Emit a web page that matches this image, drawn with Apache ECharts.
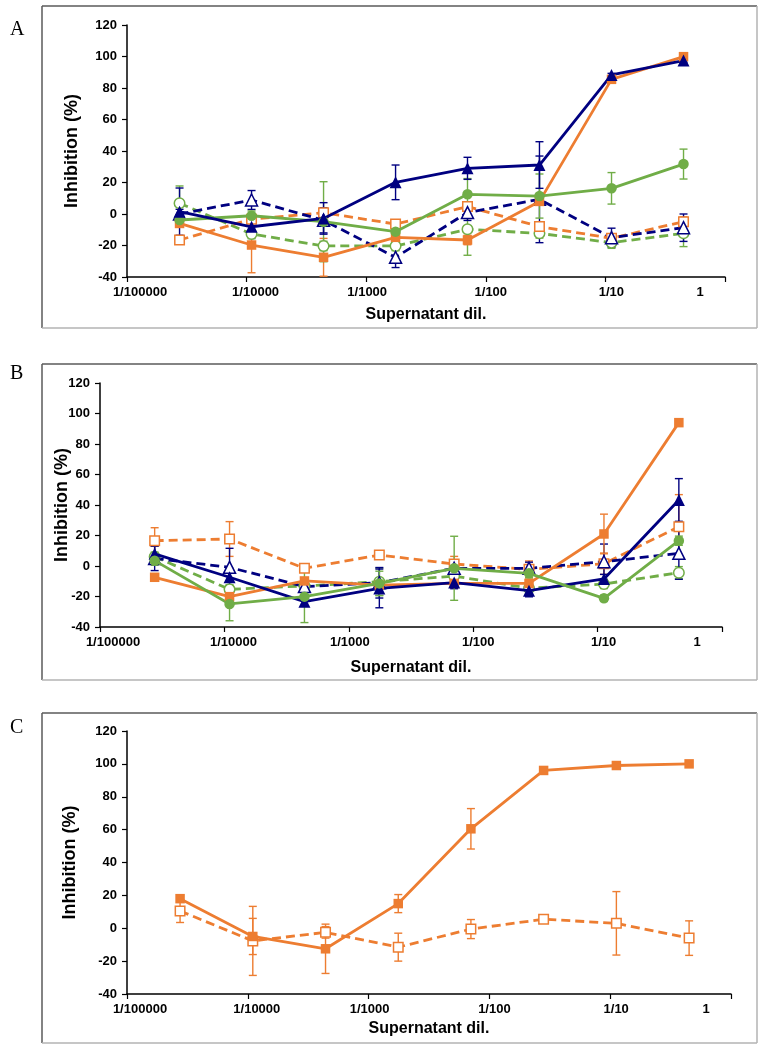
<!DOCTYPE html>
<html><head><meta charset="utf-8">
<script src="https://cdn.jsdelivr.net/npm/echarts@6/dist/echarts.min.js"></script>
<style>html,body{margin:0;padding:0;background:#fff}#c{width:765px;height:1050px}</style>
</head><body><div id="c"></div>
<script>
// Dilutions (x values) shared by all panels
const dilutions = [0.0000275, 0.00011, 0.00044, 0.00176, 0.00703, 0.0281, 0.1125, 0.45];
const xTickValues = [0.00001, 0.0001, 0.001, 0.01, 0.1, 1];
const xTickLabels = ['1/100000', '1/10000', '1/1000', '1/100', '1/10', '1'];

// Panel A
const A_orangeFilled    = [-6, -19.7, -27.5, -14.8, -16.5, 8, 85.5, 99.9];
const A_orangeFilledErr = [2, 17.6, 12, 3, 3, 2, 1, 1];
const A_orangeOpen      = [-16.5, -3.3, 0.8, -6.4, 4.7, -8, -15.4, -4.9];
const A_orangeOpenErr   = [2, 2, 2, 2, 3, 2, 2, 3];
const A_navyFilled      = [1.5, -8.1, -2.8, 20.1, 29, 31.1, 88.3, 97.4];
const A_navyFilledErr   = [15, 3, 10, 11, 7, 14.8, 1, 1];
const A_navyOpen        = [0, 8.9, -4, -27.5, 0.9, 9.3, -15, -8.7];
const A_navyOpenErr     = [3, 6, 8, 6.5, 5, 27.5, 6, 8.7];
const A_greenFilled     = [-3.8, -1.1, -4.9, -11.2, 12.5, 11.4, 16.3, 31.7];
const A_greenFilledErr  = [3, 3, 25.4, 2, 10, 14, 10, 9.5];
const A_greenOpen       = [6.8, -12.7, -20.3, -20.3, -9.7, -12.3, -18.2, -12.3];
const A_greenOpenErr    = [11, 3, 3, 3, 16.5, 3, 3.6, 8.4];

// Panel B
const B_orangeFilled    = [-7.4, -20.1, -9.8, -12.5, -11.4, -11.4, 21, 94];
const B_orangeFilledErr = [2, 2, 2, 2, 2, 2, 13, 1];
const B_orangeOpen      = [16.6, 17.7, -1.5, 7.2, 1.3, -2.2, 1.5, 25.8];
const B_orangeOpenErr   = [8.5, 11.4, 2, 2, 5, 5.5, 7, 21];
const B_navyFilled      = [8, -7.4, -23.4, -14.7, -10.9, -16.2, -8.5, 43.3];
const B_navyFilledErr   = [5, 3, 3, 12.7, 4, 4, 3, 14];
const B_navyOpen        = [5, -0.9, -13.5, -11, -1.5, -1.5, 2.8, 8.3];
const B_navyOpenErr     = [8, 12.5, 3, 10, 3, 4, 11.6, 17];
const B_greenFilled     = [3.5, -24.9, -20.1, -11.4, -1.5, -4.8, -21.2, 16.6];
const B_greenFilledErr  = [3, 11, 17, 8, 21, 3, 2, 3];
const B_greenOpen       = [6.1, -15.3, -13.1, -10.3, -6.6, -14.6, -11.8, -4.4];
const B_greenOpenErr    = [3, 3, 3, 9, 3, 5, 3, 4];

// Panel C
const C_orangeFilled    = [18, -5, -12.5, 15, 60.5, 96, 99, 100];
const C_orangeFilledErr = [2, 11, 15, 5.5, 12.3, 1.5, 1.5, 1.5];
const C_orangeOpen      = [10.5, -7.7, -2.5, -11.5, -0.5, 5.5, 3, -6];
const C_orangeOpenErr   = [7, 21, 3.5, 8.5, 5.8, 1.5, 19.3, 10.5];

const ORANGE = '#ED7D31', NAVY = '#000080', GREEN = '#70AD47';
const SANS = '"Liberation Sans", Arial, sans-serif';

function lineSeries(idx, values, color, filled, symbol, dashed) {
  const size = symbol === 'rect' ? 9.5 : (symbol === 'triangle' ? 12 : 10.5);
  return {
    type: 'line', xAxisIndex: idx, yAxisIndex: idx,
    data: dilutions.map((d, i) => [d, values[i]]),
    symbol: symbol, symbolSize: size, showSymbol: true,
    lineStyle: { color: color, width: 2.8, type: dashed ? [9, 5] : 'solid' },
    itemStyle: { color: filled ? color : '#ffffff', borderColor: color, borderWidth: filled ? 0 : 1.5 },
    z: dashed ? 3 : 4, animation: false
  };
}
function errSeries(idx, values, errs, color) {
  return {
    type: 'custom', xAxisIndex: idx, yAxisIndex: idx,
    data: dilutions.map((d, i) => [d, values[i] - errs[i], values[i] + errs[i]]),
    encode: { x: 0, y: [1, 2] },
    renderItem: function (params, api) {
      const lo = api.coord([api.value(0), api.value(1)]);
      const hi = api.coord([api.value(0), api.value(2)]);
      const w = 4;
      const st = { stroke: color, lineWidth: 1.4 };
      return { type: 'group', children: [
        { type: 'line', shape: { x1: lo[0], y1: lo[1], x2: hi[0], y2: hi[1] }, style: st },
        { type: 'line', shape: { x1: lo[0] - w, y1: lo[1], x2: lo[0] + w, y2: lo[1] }, style: st },
        { type: 'line', shape: { x1: hi[0] - w, y1: hi[1], x2: hi[0] + w, y2: hi[1] }, style: st }
      ]};
    },
    z: 2, animation: false
  };
}

const labelShift = { s0: [0, 0, 0, 26], s1: [0, 0, 0, 18], s2: [0, 0, 0, 2], s3: [0, 0, 0, 10], s4: [0, 0, 0, 12], s5: [0, 50, 0, 0] };
const rich = {};
Object.keys(labelShift).forEach(k => { rich[k] = { padding: labelShift[k], fontFamily: SANS, fontWeight: 'bold', fontSize: 13, color: '#000' }; });

function xAxis(idx, nameGap) {
  return {
    type: 'log', logBase: 10, gridIndex: idx, min: 0.00001, max: 1,
    name: 'Supernatant dil.', nameLocation: 'middle', nameGap: nameGap, nameMoveOverlap: false,
    nameTextStyle: { fontFamily: SANS, fontWeight: 'bold', fontSize: 16, color: '#000' },
    axisLine: { show: true, onZero: false, lineStyle: { color: '#000', width: 1.5 } },
    axisTick: { show: true, length: 5, lineStyle: { color: '#000', width: 1.2 } },
    minorTick: { show: false }, splitLine: { show: false },
    axisLabel: {
      margin: 9, color: '#000', fontFamily: SANS, fontWeight: 'bold', fontSize: 13,
      formatter: function (v) {
        const k = Math.round(Math.log10(v)) + 5;
        return '{s' + k + '|' + xTickLabels[k] + '}';
      },
      rich: rich
    }
  };
}
function yAxis(idx, nameGap) {
  return {
    type: 'value', gridIndex: idx, min: -40, max: 120, interval: 20,
    name: 'Inhibition (%)', nameLocation: 'middle', nameGap: nameGap, nameRotate: 90, nameMoveOverlap: false,
    nameTextStyle: { fontFamily: SANS, fontWeight: 'bold', fontSize: 18, color: '#000' },
    axisLine: { show: true, lineStyle: { color: '#000', width: 1.5 } },
    axisTick: { show: true, length: 5, lineStyle: { color: '#000', width: 1.2 } },
    splitLine: { show: false },
    axisLabel: { margin: 10, color: '#000', fontFamily: SANS, fontWeight: 'bold', fontSize: 13 }
  };
}

function box(x1, y1, x2, y2) {
  const dark = { stroke: '#5a5a5a', lineWidth: 1.5 }, light = { stroke: '#b3b3b3', lineWidth: 1.5 };
  return [
    { type: 'line', shape: { x1: x1, y1: y1, x2: x2, y2: y1 }, style: dark },
    { type: 'line', shape: { x1: x1, y1: y1, x2: x1, y2: y2 }, style: dark },
    { type: 'line', shape: { x1: x2, y1: y1, x2: x2, y2: y2 }, style: light },
    { type: 'line', shape: { x1: x1, y1: y2, x2: x2, y2: y2 }, style: light }
  ];
}

const series = [];
function addPanel(idx, sets) {
  sets.forEach(s => series.push(errSeries(idx, s[0], s[1], s[2])));
  sets.forEach(s => series.push(lineSeries(idx, s[0], s[2], s[3], s[4], s[5])));
}
addPanel(0, [
  [A_greenOpen, A_greenOpenErr, GREEN, false, 'circle', true],
  [A_orangeOpen, A_orangeOpenErr, ORANGE, false, 'rect', true],
  [A_navyOpen, A_navyOpenErr, NAVY, false, 'triangle', true],
  [A_orangeFilled, A_orangeFilledErr, ORANGE, true, 'rect', false],
  [A_greenFilled, A_greenFilledErr, GREEN, true, 'circle', false],
  [A_navyFilled, A_navyFilledErr, NAVY, true, 'triangle', false]
]);
addPanel(1, [
  [B_greenOpen, B_greenOpenErr, GREEN, false, 'circle', true],
  [B_orangeOpen, B_orangeOpenErr, ORANGE, false, 'rect', true],
  [B_navyOpen, B_navyOpenErr, NAVY, false, 'triangle', true],
  [B_orangeFilled, B_orangeFilledErr, ORANGE, true, 'rect', false],
  [B_navyFilled, B_navyFilledErr, NAVY, true, 'triangle', false],
  [B_greenFilled, B_greenFilledErr, GREEN, true, 'circle', false]
]);
addPanel(2, [
  [C_orangeOpen, C_orangeOpenErr, ORANGE, false, 'rect', true],
  [C_orangeFilled, C_orangeFilledErr, ORANGE, true, 'rect', false]
]);

const LETTER = { fontFamily: '"Liberation Serif", serif', fontWeight: 'normal', fontSize: 20, color: '#000' };
const chart = echarts.init(document.getElementById('c'), null, { renderer: 'canvas' });
chart.setOption({
  backgroundColor: '#ffffff',
  animation: false,
  title: [
    { text: 'A', left: 5, top: 15, textStyle: LETTER },
    { text: 'B', left: 5, top: 359, textStyle: LETTER },
    { text: 'C', left: 5, top: 713, textStyle: LETTER }
  ],
  grid: [
    { left: 127, top: 25, width: 598, height: 252 },
    { left: 100, top: 383, width: 622, height: 244 },
    { left: 127, top: 731, width: 604, height: 263 }
  ],
  xAxis: [xAxis(0, 30), xAxis(1, 33), xAxis(2, 27)],
  yAxis: [yAxis(0, 46), yAxis(1, 29), yAxis(2, 48)],
  graphic: [].concat(box(42, 6, 757, 328), box(42, 364, 757, 680), box(42, 713, 757, 1043)),
  series: series
});
</script></body></html>
